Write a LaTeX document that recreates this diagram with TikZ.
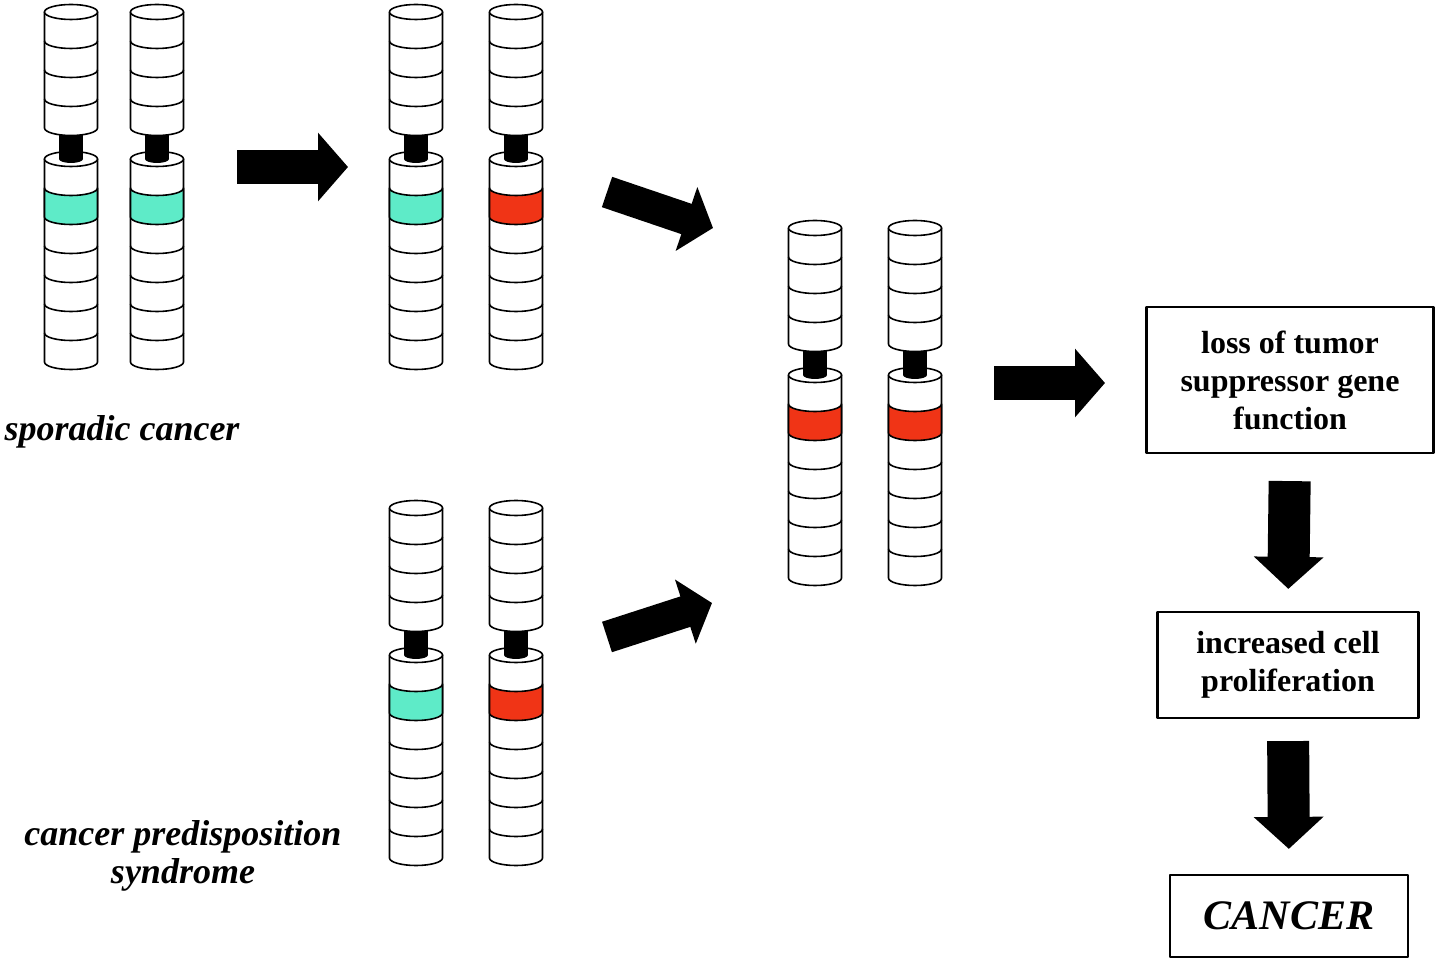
\documentclass[tikz,border=0pt]{standalone}
\usepackage{fontspec}
\setmainfont{Liberation Serif}
\usetikzlibrary{arrows.meta}
\definecolor{cyanband}{RGB}{94,235,200}
\definecolor{redband}{RGB}{240,52,22}
\begin{document}
\begin{tikzpicture}[x=0.5pt,y=-0.5pt,line join=round,line width=0.8pt,
	box/.style={draw,line width=1.1pt,align=center,font=\fontsize{16}{19}\selectfont\bfseries},
	tag/.style={align=center,font=\fontsize{18}{19}\selectfont\bfseries\itshape},
	fat/.style={line width=17pt,-{Triangle[length=15pt,width=33.5pt]}},
	slant/.style={line width=16pt,-{Triangle[length=14pt,width=33pt]}},
	tall/.style={line width=21pt,-{Triangle[length=16pt,width=34pt]}}]
	\def\rx{26.5} % half width of a chromosome
	\def\ry{7.5} % half height of the end ellipse
	\def\bh{29} % height of one band
	\def\lo{147} % top of the lower arm
	\useasboundingbox (0,0) rectangle (1440,961);
	% one chromosome: x, top, colour of the marked band
	\def\chromo#1#2#3{%
		% upper arm
		\filldraw[fill=white] (#1-\rx,#2) -- (#1-\rx,#2+4*\bh) arc[start angle=180,end angle=0,x radius=\rx,y radius=\ry] -- (#1+\rx,#2) -- cycle;
		\foreach \k in {1,2,3}
			\draw (#1-\rx,#2+\k*\bh) arc[start angle=180,end angle=0,x radius=\rx,y radius=\ry];
		\filldraw[fill=white] (#1,#2) ellipse[x radius=\rx,y radius=\ry];
		% lower arm
		\filldraw[fill=white] (#1-\rx,#2+\lo) -- (#1-\rx,#2+\lo+7*\bh) arc[start angle=180,end angle=0,x radius=\rx,y radius=\ry] -- (#1+\rx,#2+\lo) -- cycle;
		\filldraw[fill=#3] (#1-\rx,#2+\lo+\bh) arc[start angle=180,end angle=0,x radius=\rx,y radius=\ry] -- (#1+\rx,#2+\lo+2*\bh) arc[start angle=0,end angle=180,x radius=\rx,y radius=\ry] -- cycle;
		\foreach \k in {3,...,6}
			\draw (#1-\rx,#2+\lo+\k*\bh) arc[start angle=180,end angle=0,x radius=\rx,y radius=\ry];
		\filldraw[fill=white] (#1,#2+\lo) ellipse[x radius=\rx,y radius=\ry];
		% centromere
		\fill (#1-12,#2+4*\bh+7) rectangle (#1+12,#2+\lo);
		\fill (#1,#2+\lo) ellipse[x radius=12,y radius=4];
	}
	% sporadic pair
	\chromo{71}{12}{cyanband}
	\chromo{157}{12}{cyanband}
	% one hit
	\chromo{416}{12}{cyanband}
	\chromo{516}{12}{redband}
	% inherited hit
	\chromo{416}{508}{cyanband}
	\chromo{516}{508}{redband}
	% both hit
	\chromo{815}{228}{redband}
	\chromo{915}{228}{redband}
	% labels
	\node[tag] (spor) at (122,432) {sporadic cancer};
	\node[tag] (pred) at (183,856) {cancer predisposition\\syndrome};
	% boxes
	\node[box,minimum width=143.5pt,minimum height=73pt] (loss) at (1290,380) {loss of tumor\\suppressor gene\\function};
	\node[box,minimum width=130.5pt,minimum height=53pt] (prolif) at (1288,665) {increased cell\\proliferation};
	\node[box,minimum width=119pt,minimum height=41pt,font=\fontsize{21}{24}\selectfont\bfseries\itshape] (canc) at (1289,916) {CANCER};
	% arrow ends
	\path
	(237,167) coordinate (h1a)
	(348,167) coordinate (h1b)
	(607,192) coordinate (d1a)
	(713,228) coordinate (d1b)
	(607,637) coordinate (d2a)
	(712,603) coordinate (d2b)
	(994,383) coordinate (h2a)
	(1105,383) coordinate (h2b);
	% arrows
	\draw[fat] (h1a)--(h1b);
	\draw[slant] (d1a)--(d1b);
	\draw[slant] (d2a)--(d2b);
	\draw[fat] (h2a)--(h2b);
	\draw[tall,shorten <=13.5pt,shorten >=11pt] (loss.south)--(prolif.north);
	\draw[tall,shorten <=11pt,shorten >=12.5pt] (prolif.south)--(canc.north);
\end{tikzpicture}
\end{document}
